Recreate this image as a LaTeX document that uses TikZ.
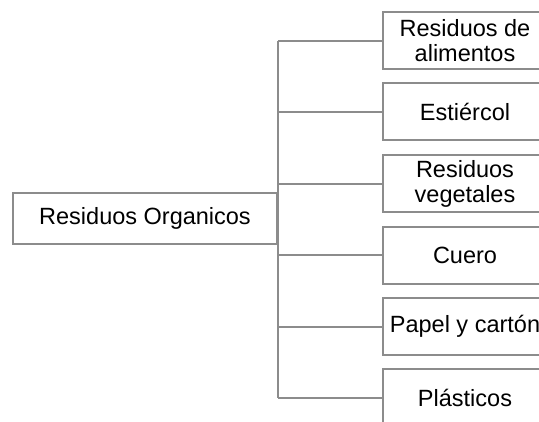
\documentclass[tikz,border=0pt]{standalone}
\usepackage{fontspec}
\setmainfont{Liberation Sans}
\definecolor{linegray}{RGB}{140,140,140}
\begin{document}
\begin{tikzpicture}[x=1bp,y=-1bp,
  box/.style={draw=linegray,line width=2bp,fill=white,minimum height=57bp,minimum width=164bp,inner sep=0pt,align=center,font=\fontsize{23.5bp}{25bp}\selectfont,anchor=center},
  mainbox/.style={box,minimum height=51bp,minimum width=264bp},
  conn/.style={draw=linegray,line width=2bp}]
\useasboundingbox (0,0) rectangle (539,421);
\clip (0,0) rectangle (539,421);
\node[mainbox] (main) at (145,218.5) {Residuos Organicos};
\node[box] (b1) at (465,40.5) {Residuos de\\alimentos};
\node[box] (b2) at (465,111.5) {Estiércol};
\node[box] (b3) at (465,183.5) {Residuos\\vegetales};
\node[box] (b4) at (465,255) {Cuero};
\node[box] (b5) at (465,326.5) {Papel y cartón};
\node[box] (b6) at (465,397.5) {Plásticos};
\coordinate (trunk) at (main.east);
\draw[conn] (b1.west -| trunk) -- (b6.west -| trunk);
\foreach \b in {b1,b2,b3,b4,b5,b6}{\draw[conn] (\b.west) -- (\b.west -| trunk);}
\end{tikzpicture}
\end{document}
